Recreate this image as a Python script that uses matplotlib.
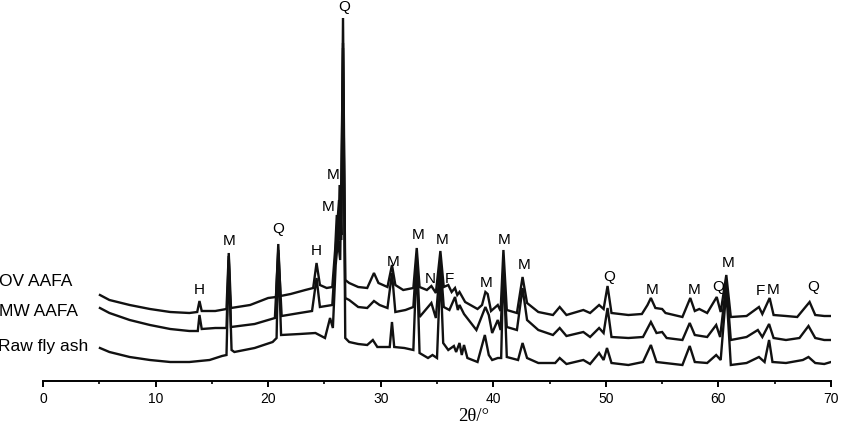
import matplotlib
matplotlib.use('Agg')
import matplotlib.pyplot as plt
from matplotlib.ticker import MultipleLocator

plt.rcParams['font.family'] = ['Liberation Sans', 'DejaVu Sans']

# XRD patterns: 2theta (deg) and intensity (a.u., incl. stacking offset)
ov_x = [5.06, 5.9, 7.7, 9.5, 11.3, 13.0, 13.7, 13.9, 14.1, 15.3, 16.3, 16.5, 16.7, 18.4, 20.0, 20.7, 20.9, 21.1,
        22.0, 23.3, 24.0, 24.3, 24.6, 25.2, 25.7, 25.95, 26.1, 26.25, 26.35, 26.5, 26.65, 26.85, 27.2, 28.0, 28.8,
        29.4, 29.8, 30.6, 31.0, 31.3, 32.0, 32.9, 33.2, 33.45, 34.1, 34.5, 34.9, 35.3, 35.6, 36.0, 36.3, 36.6,
        36.8, 37.0, 37.5, 38.6, 39.0, 39.3, 39.5, 39.8, 40.4, 40.65, 40.9, 41.2, 42.1, 42.6, 43.0, 44.0, 45.3,
        45.9, 46.5, 48.0, 48.6, 49.4, 49.8, 50.15, 50.5, 52.0, 53.2, 53.7, 54.0, 54.4, 55.0, 55.3, 56.8, 57.5,
        57.9, 58.3, 59.0, 59.85, 60.2, 60.7, 61.1, 62.5, 63.6, 63.9, 64.55, 64.9, 66.0, 67.0, 68.1, 68.6, 69.4, 70.0]
ov_y = [86, 81, 76, 72, 69, 68, 69, 80, 70, 70, 72, 128, 73, 76, 83, 84, 137, 85,
        87, 91, 93, 118, 96, 93, 94, 131, 166, 141, 196, 146, 363, 101, 98, 94, 93,
        108, 98, 94, 116, 96, 91, 93, 133, 94, 91, 95, 88, 130, 94, 96, 89, 93,
        86, 89, 79, 72, 76, 89, 87, 70, 76, 70, 131, 71, 68, 104, 78, 69, 66,
        74, 66, 71, 68, 76, 72, 95, 68, 66, 67, 76, 83, 73, 72, 68, 64, 83,
        70, 72, 68, 84, 69, 106, 64, 65, 74, 67, 83, 66, 65, 64, 79, 66, 65, 65]

mw_x = [5.06, 5.9, 7.7, 9.5, 11.3, 13.0, 13.75, 13.9, 14.1, 15.3, 16.3, 16.5, 16.7, 18.8, 20.6, 20.9, 21.2,
        22.8, 23.9, 24.3, 24.6, 25.7, 25.95, 26.1, 26.3, 26.5, 26.65, 26.85, 27.2, 28.0, 28.8, 29.4, 29.9,
        30.6, 31.0, 31.3, 32.2, 32.9, 33.2, 33.45, 33.9, 34.5, 34.9, 35.3, 35.6, 36.1, 36.6, 36.85, 37.0,
        37.4, 38.5, 39.3, 39.6, 39.9, 40.4, 40.65, 40.9, 41.2, 42.1, 42.6, 43.0, 44.0, 45.3, 45.9, 46.5,
        48.0, 48.6, 49.4, 49.8, 50.15, 50.5, 52.0, 53.3, 54.0, 54.5, 55.0, 55.4, 56.8, 57.45, 57.9, 59.0,
        59.8, 60.15, 60.7, 61.1, 62.5, 63.5, 63.9, 64.5, 64.9, 66.0, 67.2, 68.0, 68.6, 69.4, 70.0]
mw_y = [73, 68, 61, 56, 52, 50, 50, 66, 52, 53, 53, 125, 54, 57, 63, 131, 65,
        68, 70, 103, 74, 76, 121, 151, 181, 141, 338, 83, 81, 74, 73, 80, 76,
        73, 108, 69, 71, 74, 126, 64, 70, 78, 63, 119, 74, 71, 84, 71, 76,
        67, 51, 74, 66, 48, 61, 51, 113, 54, 51, 93, 61, 51, 46, 53, 45,
        49, 44, 53, 48, 73, 44, 43, 44, 59, 48, 49, 43, 41, 58, 46, 44,
        56, 44, 98, 41, 44, 51, 44, 57, 43, 41, 43, 55, 43, 41, 41]

raw_x = [5.06, 5.9, 7.7, 9.5, 11.3, 13.0, 14.8, 15.9, 16.3, 16.5, 16.75, 17.0, 18.8, 20.4, 20.75, 20.9, 21.15,
         22.8, 24.2, 25.05, 25.5, 25.75, 26.0, 26.2, 26.4, 26.65, 26.85, 27.2, 28.0, 28.8, 29.3, 29.7, 30.8,
         31.0, 31.2, 32.1, 32.9, 33.2, 33.45, 34.2, 34.6, 35.0, 35.3, 35.55, 36.0, 36.5, 36.7, 37.0, 37.2,
         37.4, 37.7, 38.6, 39.25, 39.6, 39.9, 40.4, 40.7, 40.9, 41.2, 42.2, 42.6, 43.0, 44.0, 45.5, 45.9,
         46.5, 48.0, 48.6, 49.4, 49.8, 50.1, 50.5, 52.0, 53.3, 54.0, 54.5, 56.8, 57.45, 57.9, 59.0, 59.8,
         60.2, 60.7, 61.1, 62.5, 63.6, 64.1, 64.5, 64.8, 66.0, 67.5, 68.0, 68.6, 69.4, 70.0]
raw_y = [33, 29, 24, 21, 19, 19, 21, 25, 26, 121, 31, 29, 33, 39, 43, 128, 46,
         47, 48, 43, 63, 53, 116, 141, 121, 333, 43, 39, 37, 36, 41, 34, 34,
         59, 34, 33, 31, 123, 28, 23, 26, 23, 111, 38, 31, 35, 29, 38, 26,
         36, 23, 19, 46, 26, 21, 23, 23, 119, 24, 21, 38, 23, 18, 18, 23,
         17, 21, 17, 28, 21, 33, 18, 16, 19, 36, 19, 16, 35, 19, 18, 26,
         21, 91, 16, 18, 24, 19, 41, 19, 18, 21, 24, 18, 17, 19]

# phase labels: letter, 2theta, height
peak_txt = ['H', 'M', 'Q', 'H', 'M', 'M', 'Q', 'M', 'M', 'N', 'F', 'M', 'M', 'M', 'M',
            'Q', 'M', 'M', 'Q', 'M', 'F', 'M', 'Q']
peak_x = [13.9, 16.5, 20.9, 24.3, 25.3, 25.76, 26.74, 31.1, 33.3, 34.4, 36.07, 35.44, 39.35, 40.95, 42.73,
          50.28, 54.1, 57.83, 59.96, 60.85, 63.7, 64.85, 68.4]
peak_y = [91, 140, 152, 130, 174, 206, 374, 119, 146, 102, 102, 141, 98, 141, 116,
          104, 91, 91, 94, 118, 90, 91, 94]

names = ['OV AAFA', 'MW AAFA', 'Raw fly ash']
name_x = [2.58, 3.11, 4.0]
name_y = [99, 70, 34]

fig = plt.figure(figsize=(8.46, 4.26), dpi=100)
ax = fig.add_axes([43 / 846, 45 / 426, 788 / 846, 381 / 426])

for xs, ys in [(ov_x, ov_y), (mw_x, mw_y), (raw_x, raw_y)]:
    ax.plot(xs, ys, color='#111111', lw=1.7, solid_joinstyle='miter')

for t, x, y in zip(peak_txt, peak_x, peak_y):
    ax.text(x, y, t, fontsize=11, ha='center', va='center', clip_on=False)

for t, x, y in zip(names, name_x, name_y):
    ax.text(x, y, t, fontsize=12.5, ha='right', va='center', clip_on=False)

ax.set_xlim(0, 70)
ax.set_ylim(0, 381)
for s in ['left', 'right', 'top']:
    ax.spines[s].set_visible(False)
ax.spines['bottom'].set_linewidth(1.4)
ax.set_yticks([])
ax.xaxis.set_major_locator(MultipleLocator(10))
ax.xaxis.set_minor_locator(MultipleLocator(5))
ax.tick_params(axis='x', which='major', length=4, width=1.4, labelsize=10, pad=4)
ax.tick_params(axis='x', which='minor', length=2.5, width=1.2)

ax.set_xlabel('2θ/°', fontsize=13.5, family=['Liberation Serif', 'DejaVu Serif'])
ax.xaxis.set_label_coords(0.546, -0.092)
ax.xaxis.label.set_verticalalignment('center')

fig.savefig('out.png', dpi=100)
